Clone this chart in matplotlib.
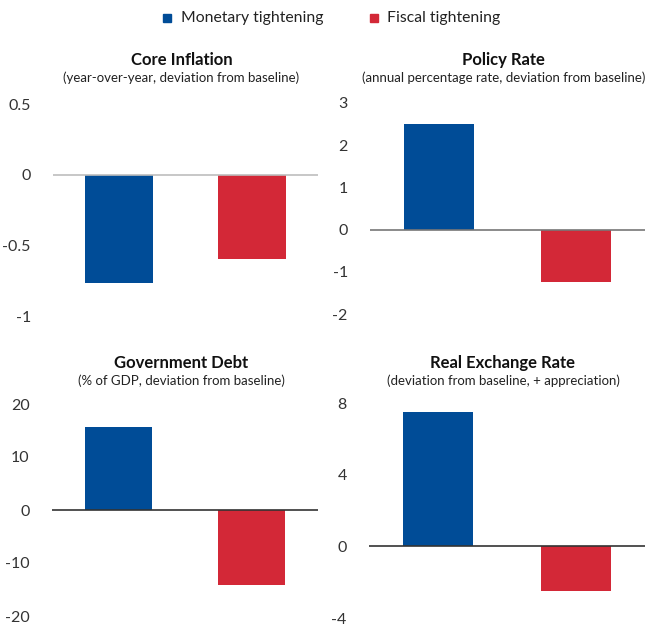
import matplotlib
matplotlib.use("Agg")
import matplotlib.pyplot as plt
from matplotlib.patches import Rectangle

plt.rcParams['font.family'] = ['Lato', 'DejaVu Sans']

series = ["Monetary tightening", "Fiscal tightening"]
colors = ["#004C97", "#D32837"]

titles = ["Core Inflation", "Policy Rate", "Government Debt", "Real Exchange Rate"]
subtitles = ["(year-over-year, deviation from baseline)",
             "(annual percentage rate, deviation from baseline)",
             "(% of GDP, deviation from baseline)",
             "(deviation from baseline, + appreciation)"]

core_inflation = [-0.77, -0.6]
policy_rate = [2.5, -1.23]
government_debt = [15.6, -14.1]
real_exchange_rate = [7.5, -2.5]
values = [core_inflation, policy_rate, government_debt, real_exchange_rate]

yticks = [[-1, -0.5, 0, 0.5], [-2, -1, 0, 1, 2, 3], [-20, -10, 0, 10, 20], [-4, 0, 4, 8]]
yticklabels = [["-1", "-0.5", "0", "0.5"], ["-2", "-1", "0", "1", "2", "3"],
               ["-20", "-10", "0", "10", "20"], ["-4", "0", "4", "8"]]
zero_colors = ["#bdbdbd", "#777777", "#333333", "#333333"]

W, H = 660, 625
fig = plt.figure(figsize=(6.6, 6.25), dpi=100)

# pixel boxes: left, right, top, bottom
boxes = [(53, 318, 104, 316), (370, 645, 103, 314), (52, 318, 404, 616), (369, 645, 403, 618)]
title_y = [60, 363]

for i, (l, r, t, b) in enumerate(boxes):
    ax = fig.add_axes([l / W, 1 - b / H, (r - l) / W, (b - t) / H])
    ax.bar([0, 1], values[i], width=0.51, color=colors, zorder=2)
    ax.axhline(0, color=zero_colors[i], lw=1.2, zorder=3)
    ax.set_xlim(-0.5, 1.5)
    ax.set_ylim(yticks[i][0], yticks[i][-1])
    ax.set_yticks(yticks[i])
    ax.set_yticklabels(yticklabels[i])
    ax.set_xticks([])
    for s in ax.spines.values():
        s.set_visible(False)
    ax.tick_params(axis='y', length=0, pad=16, labelsize=11.5, labelcolor="#333333")
    cx = (l + r) / 2 - 4
    ty = title_y[i // 2]
    fig.text(cx / W, 1 - ty / H, titles[i], ha='center', va='center',
             fontsize=12, fontweight='bold', color="#111111")
    fig.text(cx / W, 1 - (ty + 18) / H, subtitles[i], ha='center', va='center',
             fontsize=9.5, color="#222222")

# legend
leg_items = [(167, 181, series[0], colors[0]), (374, 387, series[1], colors[1])]
for sx, tx, label, c in leg_items:
    fig.patches.append(Rectangle(((sx - 4) / W, 1 - 22 / H), 8 / W, 8 / H,
                                 transform=fig.transFigure, color=c, figure=fig))
    fig.text(tx / W, 1 - 18 / H, label, ha='left', va='center', fontsize=11.3, color="#222222")

fig.savefig("out.png", dpi=100)
